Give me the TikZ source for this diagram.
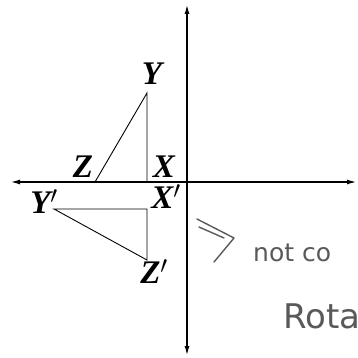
\documentclass[tikz,border=0pt]{standalone}
\usepackage{fontspec}
\setmainfont{Liberation Serif}
\newfontfamily\handfont{DejaVu Sans}
\usetikzlibrary{arrows.meta}
\tikzset{
  axis/.style={line width=1.1pt,{Latex[length=9pt,width=5pt]}-{Latex[length=9pt,width=5pt]}},
  side/.style={line width=0.9pt},
  vlabel/.style={anchor=base,inner sep=0pt,font=\fontsize{33}{33}\selectfont\bfseries\itshape},
  hand/.style={draw=black!65,line width=1.4pt,line cap=round,line join=round},
  handtext/.style={anchor=base west,inner sep=0pt,text=black!65}
}
\begin{document}
\begin{tikzpicture}[x=1pt,y=-1pt]
  \useasboundingbox (0,0) rectangle (357,358);
  \clip (0,0) rectangle (357,358);
  % Axes
  \coordinate (top) at (187,5);
  \coordinate (bottom) at (187,355);
  \coordinate (left) at (11,182);
  \coordinate (right) at (356,182);
  \draw[axis] (bottom) -- (top);
  \draw[axis] (left) -- (right);
  % Triangle XYZ
  \coordinate (Y) at (147,93);
  \coordinate (X) at (147,182);
  \coordinate (Z) at (95,182);
  \draw[side] (Z) -- (Y) -- (X);
  \node[vlabel] (labY) at (152,85) {Y};
  \node[vlabel] (labX) at (164,177) {X};
  \node[vlabel] (labZ) at (83,177) {Z};
  % Triangle X'Y'Z'
  \coordinate (Yp) at (54,209);
  \coordinate (Xp) at (147,209);
  \coordinate (Zp) at (147,260);
  \draw[side] (Yp) -- (Xp) -- (Zp) -- cycle;
  \node[vlabel] (labYp) at (44,213) {Y$'$};
  \node[vlabel] (labXp) at (166,208) {X$'$};
  \node[vlabel] (labZp) at (154,283) {Z$'$};
  % Handwritten note
  \coordinate (h1) at (197,219);
  \coordinate (h2) at (234,238);
  \coordinate (h3) at (214,262);
  \coordinate (h4) at (199,227);
  \coordinate (h5) at (224,238);
  \draw[hand] (h1) -- (h2) -- (h3);
  \draw[hand] (h4) -- (h5);
  \node[handtext,font=\handfont\fontsize{25}{25}\selectfont] (note) at (253,261) {not co};
  \node[handtext,font=\handfont\fontsize{34}{34}\selectfont] (rot) at (283,328) {Rota};
\end{tikzpicture}
\end{document}
